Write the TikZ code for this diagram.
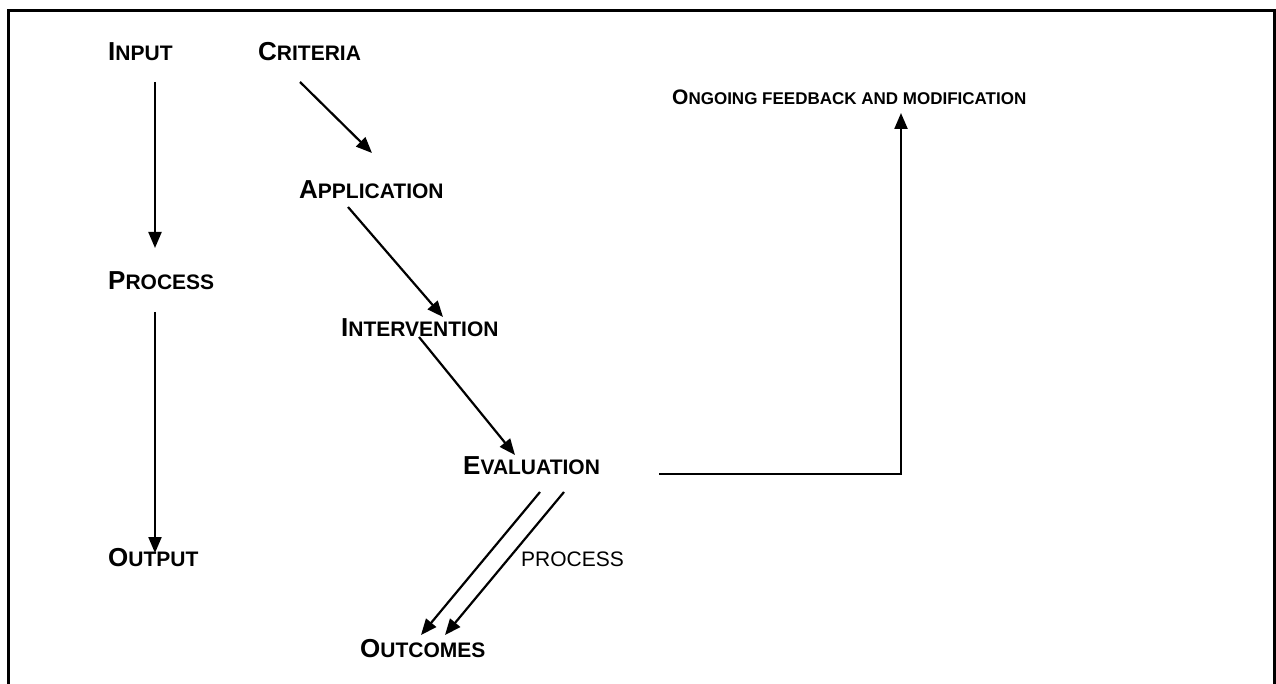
\documentclass[tikz,border=0pt]{standalone}
\usepackage{fontspec}
\setmainfont{Liberation Sans}
\usepackage{tikz}
\usetikzlibrary{calc}
\usetikzlibrary{arrows.meta}

\newcommand{\capword}[2]{{\fontsize{26}{30}\selectfont #1}{\fontsize{21}{25}\selectfont #2}}
\newcommand{\capwordsmall}[2]{{\fontsize{21}{25}\selectfont #1}{\fontsize{17}{20}\selectfont #2}}

\begin{document}
\begin{tikzpicture}[x=1pt, y=-1pt,
    stagenode/.style={inner sep=0pt, anchor=base west, font=\bfseries},
    notenode/.style={inner sep=0pt, anchor=base west, font=\fontsize{21}{25}\selectfont},
    flowarrow/.style={-{Triangle[length=16pt, width=13pt]}, line width=2.2pt}]
        \useasboundingbox (0,0) rectangle (1276,684);
        \draw[line width=3pt] (8,684) -- (8,11) -- (1274,11) -- (1274,684);

        \node[stagenode] (input) at (108,61) {\capword{I}{NPUT}};
        \node[stagenode] (process) at (108,290) {\capword{P}{ROCESS}};
        \node[stagenode] (output) at (108,566) {\capword{O}{UTPUT}};
        \node[stagenode] (criteria) at (258,61) {\capword{C}{RITERIA}};
        \node[stagenode] (application) at (299,199) {\capword{A}{PPLICATION}};
        \node[stagenode] (intervention) at (341,337) {\capword{I}{NTERVENTION}};
        \node[stagenode] (evaluation) at (463,474) {\capword{E}{VALUATION}};
        \node[stagenode] (outcomes) at (360,657) {\capword{O}{UTCOMES}};
        \node[stagenode] (feedback) at (672,105) {\capwordsmall{O}{NGOING FEEDBACK AND MODIFICATION}};
        \node[notenode] (processnote) at (521,566) {PROCESS};

        \draw[flowarrow] ($(input.base west)+(47,21)$) -- ($(process.base west)+(47,-42)$);
        \draw[flowarrow] ($(process.base west)+(47,22)$) -- ($(output.base west)+(47,-13)$);
        \draw[flowarrow] ($(criteria.base west)+(42,21)$) -- ($(application.base west)+(73,-46)$);
        \draw[flowarrow] ($(application.base west)+(49,8)$) -- ($(intervention.base west)+(102,-20)$);
        \draw[flowarrow] ($(intervention.base west)+(78,0)$) -- ($(evaluation.base west)+(52,-19)$);
        \draw[flowarrow] ($(evaluation.base west)+(77,18)$) -- ($(outcomes.base west)+(61,-22)$);
        \draw[flowarrow] ($(evaluation.base west)+(101,18)$) -- ($(outcomes.base west)+(85,-22)$);
        \draw[flowarrow] ($(evaluation.base west)+(196,0)$) -| ($(feedback.base west)+(229,8)$);
    \end{tikzpicture}
\end{document}
